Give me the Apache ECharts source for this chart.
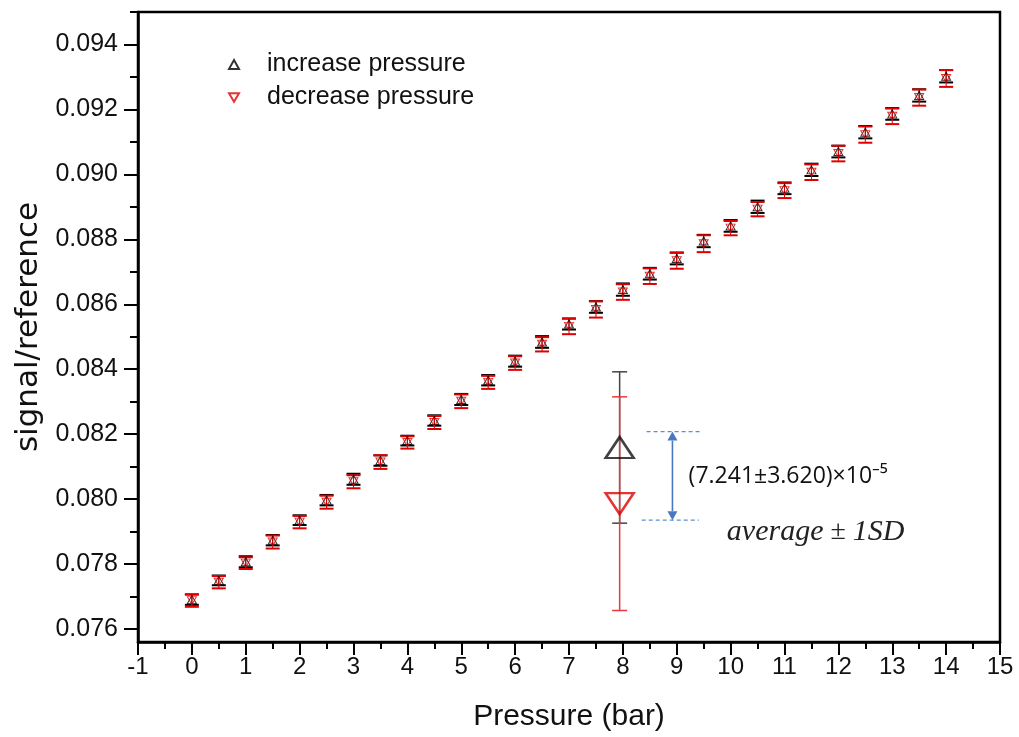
<!DOCTYPE html>
<html>
<head>
<meta charset="utf-8">
<script src="https://cdn.jsdelivr.net/npm/echarts@6/dist/echarts.min.js"></script>
<style>
  html, body { margin: 0; padding: 0; background: #fff; }
  #chart { width: 1019px; height: 737px; }
</style>
</head>
<body>
<div id="chart"></div>
<script>
// Pressure steps (bar)
const pressure = [0, 0.5, 1, 1.5, 2, 2.5, 3, 3.5, 4, 4.5, 5, 5.5, 6, 6.5, 7,
  7.5, 8, 8.5, 9, 9.5, 10, 10.5, 11, 11.5, 12, 12.5, 13, 13.5, 14];

// signal/reference while pressure is raised
const increaseMean = [0.076905, 0.077498, 0.078071, 0.078735, 0.079352, 0.079968,
  0.080611, 0.081187, 0.081802, 0.082421, 0.083069, 0.083661, 0.084248, 0.084839,
  0.085392, 0.085917, 0.086452, 0.086941, 0.087409, 0.087948, 0.088413, 0.089002,
  0.089571, 0.090139, 0.090703, 0.091299, 0.091862, 0.092431, 0.093021];
const increaseSD = [0.00016, 0.00015, 0.00017, 0.00016, 0.00015, 0.00016,
  0.00017, 0.00016, 0.00015, 0.00016, 0.00017, 0.00016, 0.00017, 0.00018,
  0.00017, 0.00018, 0.00019, 0.00018, 0.00018, 0.00019, 0.00018, 0.00019,
  0.00018, 0.00019, 0.00018, 0.00019, 0.00018, 0.00019, 0.00019];

// signal/reference while pressure is released
const decreaseMean = [0.076874, 0.077442, 0.078028, 0.078678, 0.079291, 0.079905,
  0.080534, 0.081141, 0.081745, 0.082359, 0.083012, 0.083595, 0.084190, 0.084767,
  0.085319, 0.085840, 0.086377, 0.086865, 0.087344, 0.087865, 0.088344, 0.088929,
  0.089500, 0.090067, 0.090641, 0.091224, 0.091788, 0.092365, 0.092954];
const decreaseSD = [0.00019, 0.00019, 0.00018, 0.00020, 0.00019, 0.00020,
  0.00020, 0.00021, 0.00019, 0.00020, 0.00021, 0.00020, 0.00021, 0.00022,
  0.00024, 0.00025, 0.00024, 0.00024, 0.00025, 0.00026, 0.00022, 0.00022,
  0.00023, 0.00024, 0.00024, 0.00025, 0.00024, 0.00025, 0.00026];

// Averages over the whole run (mean and 1 SD)
const averageX = [7.94];
const averageIncrease = [0.08159];
const averageIncreaseSD = [0.00233];
const averageDecrease = [0.07986];
const averageDecreaseSD = [0.00329];

// Levels bracketing the difference arrow
const differenceLevels = [0.08208, 0.07935];
const differenceText = '(7.241±3.620)×10⁻⁵';

// Axis ticks
const yMajorTicks = [0.076, 0.078, 0.080, 0.082, 0.084, 0.086, 0.088, 0.090, 0.092, 0.094];
const yMinorTicks = [0.077, 0.079, 0.081, 0.083, 0.085, 0.087, 0.089, 0.091, 0.093, 0.095];

const RED = '#e00000';
const BLACK = '#000000';
// Downward-pointing triangle
const TRIANGLE_DOWN = 'path://M0,0L10,0L5,8.66Z';

function errorBar(color, capHalf, lineWidth, capWidth) {
  return function (params, api) {
    const x = api.value(0);
    const top = api.coord([x, api.value(2)]);
    const bot = api.coord([x, api.value(1)]);
    const stem = { stroke: color, lineWidth: lineWidth, fill: null };
    const cap = { stroke: color, lineWidth: capWidth, fill: null };
    return {
      type: 'group',
      children: [
        { type: 'line', shape: { x1: top[0], y1: top[1], x2: bot[0], y2: bot[1] }, style: stem },
        { type: 'line', shape: { x1: top[0] - capHalf, y1: top[1], x2: top[0] + capHalf, y2: top[1] }, style: cap },
        { type: 'line', shape: { x1: bot[0] - capHalf, y1: bot[1], x2: bot[0] + capHalf, y2: bot[1] }, style: cap }
      ]
    };
  };
}

const bars = (xs, mean, sd) => xs.map((x, i) => [x, mean[i] - sd[i], mean[i] + sd[i]]);
const points = (xs, mean) => xs.map((x, i) => [x, mean[i]]);

// Difference bracket: dashed guides, double-headed arrow and the two captions
function differenceItem(params, api) {
  const upY = api.coord([0, differenceLevels[0]])[1];
  const loY = api.coord([0, differenceLevels[1]])[1];
  const px = (v) => api.coord([v, 0.08])[0];
  const dash = { stroke: '#5b8fd0', lineWidth: 1.2, lineDash: [4, 3], fill: null };
  const ax = px(8.92);
  const arrow = '#4a78c0';
  const head = 5, headH = 9;
  const captionY = api.coord([0, 0.08070])[1];
  const avgY = api.coord([0, 0.07899])[1];
  return {
    type: 'group',
    children: [
      { type: 'line', shape: { x1: px(8.44), y1: upY, x2: px(9.48), y2: upY }, style: dash },
      { type: 'line', shape: { x1: px(8.35), y1: loY, x2: px(9.41), y2: loY }, style: dash },
      { type: 'line', shape: { x1: ax, y1: upY + headH, x2: ax, y2: loY - headH }, style: { stroke: arrow, lineWidth: 1.6 } },
      { type: 'polygon', shape: { points: [[ax, upY], [ax - head, upY + headH], [ax + head, upY + headH]] }, style: { fill: arrow } },
      { type: 'polygon', shape: { points: [[ax, loY], [ax - head, loY - headH], [ax + head, loY - headH]] }, style: { fill: arrow } },
      {
        type: 'text', x: px(9.22), y: captionY,
        style: { text: differenceText, fill: '#111', font: '23px "Open Sans", "Noto Sans", sans-serif', verticalAlign: 'middle', align: 'left' }
      },
      {
        type: 'text', x: px(9.93), y: avgY,
        style: {
          text: '{i|average}{u| ± }{i|1SD}',
          verticalAlign: 'middle', align: 'left',
          rich: {
            i: { fontFamily: '"Liberation Serif", serif', fontStyle: 'italic', fontSize: 30, fill: '#222' },
            u: { fontFamily: '"Liberation Serif", serif', fontSize: 28, fill: '#222' }
          }
        }
      }
    ]
  };
}

const chart = echarts.init(document.getElementById('chart'), null, { renderer: 'canvas' });

chart.setOption({
  backgroundColor: '#fff',
  animation: false,
  grid: {
    left: 138, right: 19, top: 12, bottom: 94,
    show: true, borderColor: '#000', borderWidth: 2.5, backgroundColor: 'transparent'
  },
  legend: {
    data: ['increase pressure', 'decrease pressure'],
    orient: 'vertical', left: 223, top: 47,
    itemWidth: 10, itemHeight: 9, itemGap: 8,
    textStyle: { fontFamily: '"Liberation Sans", Arial, sans-serif', fontSize: 25, color: '#111', padding: [0, 0, 0, 23] }
  },
  xAxis: {
    type: 'value', min: -1, max: 15, interval: 1,
    name: 'Pressure (bar)', nameLocation: 'middle', nameGap: 60,
    nameTextStyle: { fontFamily: '"Liberation Sans Narrow", "Liberation Sans", sans-serif', fontSize: 30, color: '#111' },
    axisLine: { onZero: false, lineStyle: { color: '#000', width: 2.5 } },
    axisTick: { inside: false, length: 13, lineStyle: { color: '#000', width: 2 } },
    minorTick: { show: true, splitNumber: 2, length: 7, lineStyle: { color: '#000', width: 2 } },
    axisLabel: { margin: 13, fontFamily: '"Liberation Sans Narrow", "Liberation Sans", sans-serif', fontSize: 24, color: '#111' },
    splitLine: { show: false }
  },
  yAxis: [
    {
      type: 'value', min: 0.0756, max: 0.095, position: 'left',
      name: 'signal/reference', nameLocation: 'middle', nameGap: 92,
      nameTextStyle: { fontFamily: '"DejaVu Sans", sans-serif', fontSize: 31, color: '#111' },
      axisLine: { show: true, onZero: false, lineStyle: { color: '#000', width: 2.5 } },
      axisTick: { show: true, customValues: yMajorTicks, length: 14, lineStyle: { color: '#000', width: 2 } },
      axisLabel: {
        customValues: yMajorTicks, margin: 20,
        fontFamily: '"Liberation Sans", Arial, sans-serif', fontSize: 25, color: '#111',
        formatter: (v) => v.toFixed(3)
      },
      splitLine: { show: false }
    },
    {
      type: 'value', min: 0.0756, max: 0.095, position: 'left', offset: 0,
      axisLine: { show: false, onZero: false },
      axisTick: { show: true, customValues: yMinorTicks, length: 8, lineStyle: { color: '#000', width: 2 } },
      axisLabel: { show: false },
      splitLine: { show: false }
    }
  ],
  series: [
    {
      type: 'custom', name: 'increase SD', renderItem: errorBar(BLACK, 7, 1, 2),
      data: bars(pressure, increaseMean, increaseSD), encode: { x: 0, y: [1, 2] }, z: 2
    },
    {
      type: 'custom', name: 'decrease SD', renderItem: errorBar(RED, 7, 1, 2),
      data: bars(pressure, decreaseMean, decreaseSD), encode: { x: 0, y: [1, 2] }, z: 2
    },
    {
      type: 'scatter', name: 'increase pressure', symbol: 'triangle', symbolSize: [9, 8],
      itemStyle: { color: 'rgba(255,255,255,0)', borderColor: BLACK, borderWidth: 1 },
      data: points(pressure, increaseMean), z: 3
    },
    {
      type: 'scatter', name: 'decrease pressure', symbol: TRIANGLE_DOWN, symbolSize: [9, 8],
      itemStyle: { color: 'rgba(255,255,255,0)', borderColor: RED, borderWidth: 1 },
      data: points(pressure, decreaseMean), z: 3
    },
    {
      type: 'custom', name: 'average increase SD', renderItem: errorBar('#444', 7.5, 1.5, 1.5),
      data: bars(averageX, averageIncrease, averageIncreaseSD), encode: { x: 0, y: [1, 2] }, z: 2
    },
    {
      type: 'custom', name: 'average decrease SD', renderItem: errorBar('#e8383d', 7.5, 1.5, 1.5),
      data: bars(averageX, averageDecrease, averageDecreaseSD), encode: { x: 0, y: [1, 2] }, z: 2
    },
    {
      type: 'scatter', name: 'average increase', symbol: 'triangle', symbolSize: [28, 21],
      itemStyle: { color: 'rgba(255,255,255,0)', borderColor: '#111', borderWidth: 2.5 },
      data: points(averageX, averageIncrease), z: 3
    },
    {
      type: 'scatter', name: 'average decrease', symbol: TRIANGLE_DOWN, symbolSize: [28, 21],
      itemStyle: { color: 'rgba(255,255,255,0)', borderColor: '#e00000', borderWidth: 2.5 },
      data: points(averageX, averageDecrease), z: 3
    },
    {
      type: 'custom', name: 'difference', renderItem: differenceItem,
      data: [[0, 0]], encode: { x: 0, y: 1 }, z: 4, silent: true
    }
  ]
});
</script>
</body>
</html>
